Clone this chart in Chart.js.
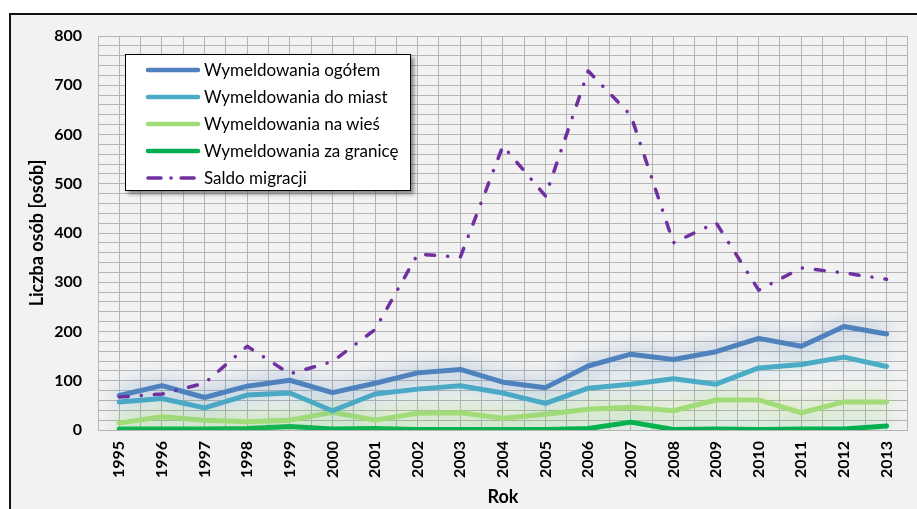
<!DOCTYPE html>
<html>
<head>
<meta charset="utf-8">
<script src="https://cdn.jsdelivr.net/npm/chart.js@4/dist/chart.umd.min.js"></script>
<style>
  html, body { margin: 0; padding: 0; background: #fff; overflow: hidden; }
  #frame { position: absolute; left: 9px; top: 13px; width: 1000px; height: 600px; border: 2px solid #111; background: #f2f2f2; }
  #wrap { position: absolute; left: 0; top: 0; width: 917px; height: 509px; }
  #legend { position: absolute; left: 125px; top: 54px; width: 284px; height: 135px; background: #fff; border: 1px solid #000;
    box-shadow: 3px 3px 4px rgba(0,0,0,0.45); font-family: Lato, 'Open Sans', sans-serif; font-size: 17px; color: #000; }
  .row { position: absolute; left: 0; height: 27px; line-height: 27px; white-space: nowrap; }
  .row svg { position: absolute; left: 19px; top: 10px; }
  .row span { position: absolute; left: 78px; top: 0; }
</style>
</head>
<body>
<div id="frame"></div>
<div id="wrap"><canvas id="c" width="917" height="509"></canvas></div>
<div id="legend"></div>
<script>
var years = ['1995','1996','1997','1998','1999','2000','2001','2002','2003','2004','2005','2006','2007','2008','2009','2010','2011','2012','2013'];
var ogolem   = [70, 90, 66, 89, 101, 76, 95, 116, 123, 97, 86, 130, 154, 143, 159, 186, 170, 210, 195];
var doMiast  = [57, 64, 45, 71, 75, 39, 73, 83, 90, 75, 54, 85, 93, 104, 93, 126, 133, 148, 129];
var naWies   = [14, 27, 20, 17, 20, 36, 20, 34, 35, 24, 32, 42, 46, 39, 61, 61, 35, 57, 57];
var zaGranice = [2, 2, 2, 3, 7, 2, 3, 1, 1, 1, 1, 3, 16, 1, 2, 1, 2, 2, 8];
var saldo    = [67, 73, 95, 170, 114, 139, 204, 357, 351, 577, 475, 729, 639, 380, 421, 284, 329, 319, 306];
var seriesNames = ['Wymeldowania ogółem', 'Wymeldowania do miast', 'Wymeldowania na wieś', 'Wymeldowania za granicę', 'Saldo migracji'];
var yTicks = [0, 100, 200, 300, 400, 500, 600, 700, 800];

var colors = ['#4f81bd', '#4bacc6', '#a2dc78', '#00b050', '#7030a0'];
var glows = ['rgba(79,129,189,0.8)', 'rgba(75,172,198,0.4)', 'rgba(146,208,80,0.8)', 'rgba(0,176,80,0.5)', null];
var seriesData = [ogolem, doMiast, naWies, zaGranice, saldo];
var gridColor = '#b4b4b4';

var glowPlugin = {
  id: 'glow',
  beforeDatasetDraw: function(chart, args) {
    var g = chart.data.datasets[args.index].glow;
    if (!g) return;
    chart.ctx.save();
    chart.ctx.shadowColor = g;
    chart.ctx.shadowBlur = 20;
  },
  afterDatasetDraw: function(chart, args) {
    if (chart.data.datasets[args.index].glow) chart.ctx.restore();
  }
};

var datasets = seriesData.map(function(d, i) {
  var isSaldo = i === 4;
  return {
    label: seriesNames[i], data: d, borderColor: colors[i], backgroundColor: colors[i],
    borderWidth: isSaldo ? 3.5 : 5, pointRadius: 0, tension: 0, fill: false,
    borderCapStyle: 'round', borderJoinStyle: 'round',
    borderDash: isSaldo ? [9, 13, 0.1, 13] : [],
    glow: glows[i], order: isSaldo ? 0 : i + 1
  };
});

var tickFont = { family: 'Lato', size: 16, weight: 'bold' };

new Chart(document.getElementById('c'), {
  type: 'line',
  data: { labels: years, datasets: datasets },
  plugins: [glowPlugin],
  options: {
    responsive: false, animation: false,
    layout: { padding: { top: 36, right: 9, left: 0, bottom: 0 } },
    plugins: { legend: { display: false }, tooltip: { enabled: false } },
    scales: {
      x: {
        offset: true,
        grid: { offset: true, color: gridColor, drawTicks: false },
        border: { color: gridColor },
        ticks: { color: '#000', font: tickFont, minRotation: 90, maxRotation: 90, padding: 11, autoSkip: false },
        title: { display: true, text: 'Rok', color: '#000', font: { family: 'Lato', size: 18, weight: 'bold' }, padding: { top: 0, bottom: 1 } },
        afterFit: function(s) { s.height = 79; }
      },
      x2: {
        type: 'category', labels: years, position: 'top', offset: true,
        grid: { offset: false, color: gridColor, drawTicks: false },
        border: { display: true, color: gridColor },
        ticks: { display: false, autoSkip: false },
        afterFit: function(s) { s.height = 0; }
      },
      y: {
        min: 0, max: 800,
        grid: { color: gridColor, drawTicks: false },
        border: { color: gridColor },
        ticks: {
          stepSize: 20, autoSkip: false, color: '#000', font: tickFont, padding: 16,
          callback: function(v) { return yTicks.indexOf(v) >= 0 ? String(v) : ''; }
        },
        title: { display: true, text: 'Liczba osób [osób]', color: '#000', font: { family: 'Lato', size: 18, weight: 'bold' }, padding: { top: 26, bottom: 0 } },
        afterFit: function(s) { s.width = 98; }
      }
    }
  }
});

// legend box drawn as html
var legend = document.getElementById('legend');
seriesNames.forEach(function(name, i) {
  var row = document.createElement('div');
  row.className = 'row';
  row.style.top = (1 + i * 27) + 'px';
  var dash = i === 4 ? ' stroke-dasharray="13 10 0.1 10" ' : '';
  row.innerHTML = '<svg width="56" height="8"><line x1="3" y1="4" x2="53" y2="4" stroke="' + colors[i] +
    '" stroke-width="' + (i === 4 ? 3.5 : 4.5) + '" stroke-linecap="round"' + dash + '/></svg><span>' + name + '</span>';
  legend.appendChild(row);
});
</script>
</body>
</html>
